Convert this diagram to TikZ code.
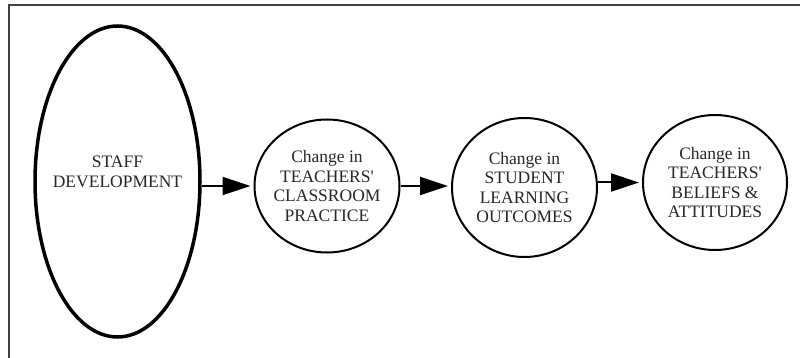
\documentclass[tikz,border=0pt]{standalone}
\usepackage{fontspec}
\setmainfont{Liberation Serif}[Ligatures=TeXOff]
\usetikzlibrary{shapes.geometric,arrows.meta}
\begin{document}
\begin{tikzpicture}[x=1pt,y=-1pt,
  bubble/.style={ellipse,draw=black,line width=2pt,inner sep=0pt},
  lbl/.style={align=center,font=\fontsize{17.5}{19.5}\selectfont,text=black!85},
  arr/.style={draw=black,line width=2pt,-{Triangle[length=28pt,width=18pt]},shorten >=3pt}]
\useasboundingbox (0,0) rectangle (800,358);
\draw[line width=2pt,draw=black!75] (9,358) -- (9,5) -- (800,5);
\node[bubble,line width=3.5pt,minimum width=165pt,minimum height=311pt] (staff) at (117.5,181.5) {};
\node[lbl] (stafftext) at (117.5,172) {STAFF\\DEVELOPMENT};
\node[bubble,minimum width=145pt,minimum height=133pt] (c1) at (327,186) {};
\node[lbl] (t1) at (c1) {Change in\\TEACHERS'\\CLASSROOM\\PRACTICE};
\node[bubble,minimum width=145pt,minimum height=139pt] (c2) at (524.5,187.5) {};
\node[lbl] (t2) at (c2) {Change in\\STUDENT\\LEARNING\\OUTCOMES};
\node[bubble,minimum width=144pt,minimum height=135pt] (c3) at (715,182.5) {};
\node[lbl] (t3) at (c3) {Change in\\TEACHERS'\\BELIEFS \&\\ATTITUDES};
\draw[arr] (c1.west -| staff.east) -- (c1.west);
\draw[arr] (c1.east) -- (c1.east -| c2.west);
\draw[arr] (c3.west -| c2.east) -- (c3.west);
\end{tikzpicture}
\end{document}
